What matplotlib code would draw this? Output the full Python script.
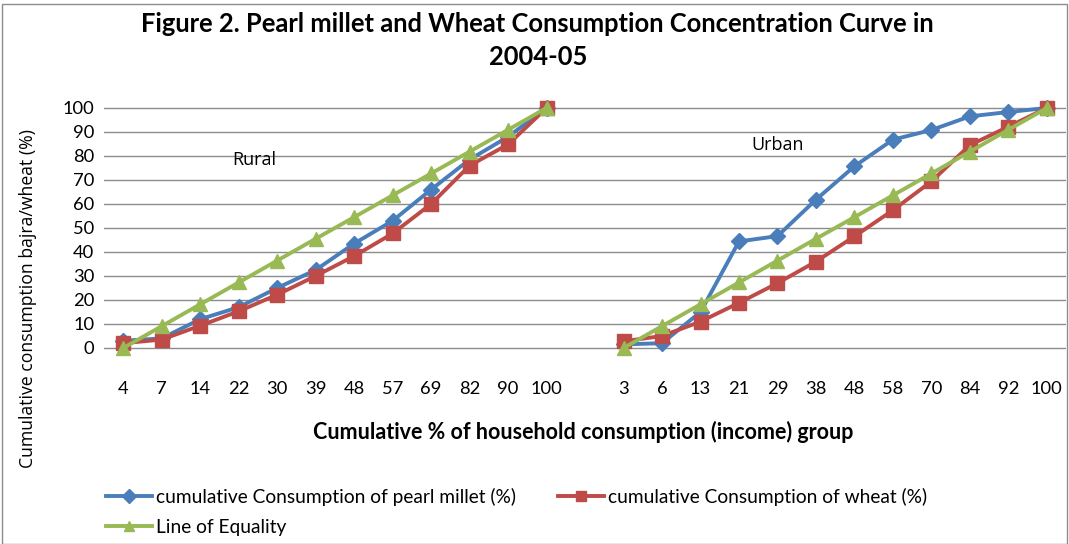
import numpy as np
import matplotlib
matplotlib.use("Agg")
import matplotlib.pyplot as plt
from matplotlib.patches import Rectangle

# ---------------- DATA ----------------
rural_groups = ["4", "7", "14", "22", "30", "39", "48", "57", "69", "82", "90", "100"]
urban_groups = ["3", "6", "13", "21", "29", "38", "48", "58", "70", "84", "92", "100"]

rural_millet = [3, 4, 12, 17, 25, 32.5, 43.5, 53, 66, 78.5, 88, 100]
rural_wheat = [2, 3.5, 9.3, 15.3, 22.2, 30, 38.3, 47.7, 60, 76, 84.8, 100]
urban_millet = [1.5, 2, 15, 44.4, 46.6, 61.8, 75.7, 86.8, 90.8, 96.5, 98.3, 100]
urban_wheat = [2.8, 5, 11, 18.8, 27, 36, 46.5, 57.4, 69.4, 84.5, 92.2, 100]
equality = [0, 9.1, 18.2, 27.3, 36.4, 45.5, 54.5, 63.6, 72.7, 81.8, 90.9, 100]
# --------------------------------------

BLUE = "#4A7EBB"
RED = "#BE4B48"
GREEN = "#98B954"
CAL = ["Lato", "DejaVu Sans"]       # stand-in for Calibri
SEG = ["Open Sans", "DejaVu Sans"]  # stand-in for Segoe UI

fig = plt.figure(figsize=(10.69, 5.44), dpi=100)
ax = fig.add_axes([0.0973, 0.325, 0.9, 0.481])

n = len(rural_groups)
x_rural = np.arange(n)
x_urban = np.arange(n) + n + 1

series = [
    (rural_millet, urban_millet, BLUE, "D", 8.5, "cumulative Consumption of pearl millet (%)"),
    (rural_wheat, urban_wheat, RED, "s", 10, "cumulative Consumption of wheat (%)"),
    (equality, equality, GREEN, "^", 10.5, "Line of Equality"),
]
for r_vals, u_vals, col, mk, ms, lab in series:
    ax.plot(x_rural, r_vals, color=col, lw=2.8, marker=mk, ms=ms, label=lab, clip_on=False, zorder=3)
    ax.plot(x_urban, u_vals, color=col, lw=2.8, marker=mk, ms=ms, clip_on=False, zorder=3)

ax.set_xlim(-0.5, 2 * n + 0.5)
ax.set_ylim(-8, 101)
ax.set_yticks(np.arange(0, 101, 10))
ax.yaxis.grid(True, color="#8c8c8c", lw=1)
ax.set_axisbelow(True)
for s in ax.spines.values():
    s.set_visible(False)

ax.set_xticks(np.concatenate([x_rural, x_urban]))
ax.set_xticklabels(rural_groups + urban_groups)
ax.tick_params(axis="both", length=0, labelsize=13.2)
ax.tick_params(axis="x", pad=10)
ax.tick_params(axis="y", pad=7)
for t in ax.get_xticklabels() + ax.get_yticklabels():
    t.set_family(CAL)

ax.text(3.4, 78.5, "Rural", fontsize=13, ha="center", va="center", family=SEG)
ax.text(17.0, 84.5, "Urban", fontsize=13, ha="center", va="center", family=SEG)

fig.text(0.503, 0.956, "Figure 2. Pearl millet and Wheat Consumption Concentration Curve in",
         ha="center", va="center", fontsize=18.4, fontweight="bold", family=CAL)
fig.text(0.503, 0.895, "2004-05",
         ha="center", va="center", fontsize=18.4, fontweight="bold", family=CAL)
fig.text(0.546, 0.206, "Cumulative % of household consumption (income) group",
         ha="center", va="center", fontsize=15.5, fontweight="bold", family=CAL)
fig.text(0.026, 0.452, "Cumulative consumption bajra/wheat (%)", rotation=90,
         ha="center", va="center", fontsize=12.7, family=SEG)

handles, labels = ax.get_legend_handles_labels()
order = [0, 2, 1]
leg = fig.legend([handles[i] for i in order], [labels[i] for i in order],
                 loc="upper left", bbox_to_anchor=(0.092, 0.118),
                 ncol=2, frameon=False, fontsize=13.8, handlelength=2.4, handletextpad=0.2,
                 columnspacing=2.2, labelspacing=0.7, borderaxespad=0)
for t in leg.get_texts():
    t.set_family(CAL)
for h in leg.legend_handles:
    h.set_markersize(7)

fig.patches.append(Rectangle((0.002, 0.0), 0.996, 0.992, transform=fig.transFigure,
                             fill=False, edgecolor="#8c8c8c", lw=1))

fig.savefig("out.png", dpi=100)
